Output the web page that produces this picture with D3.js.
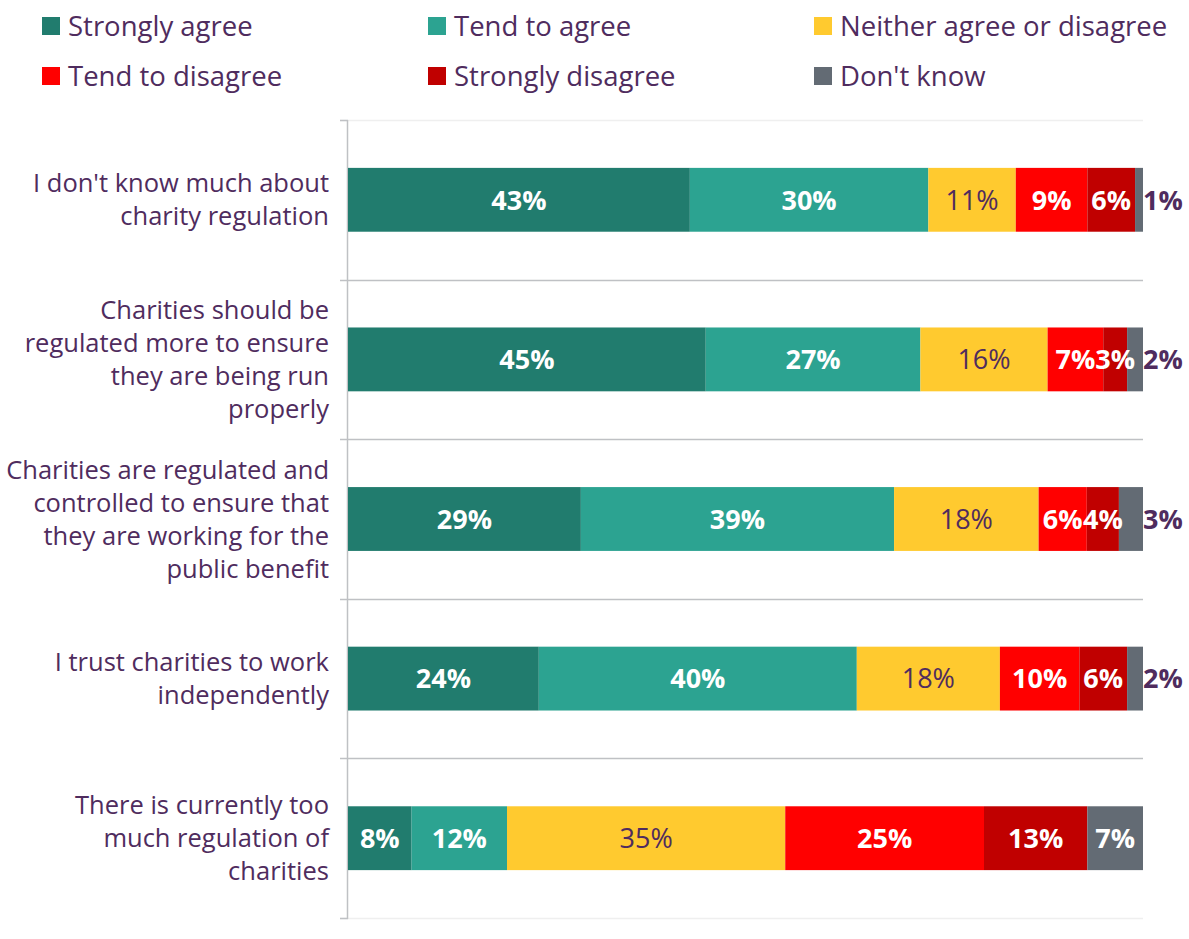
<!DOCTYPE html>
<html>
<head>
<meta charset="utf-8">
<script src="https://cdn.jsdelivr.net/npm/d3@7"></script>
<style>
  html, body { margin: 0; padding: 0; background: #ffffff; }
  svg { display: block; font-family: "Open Sans", Lato, sans-serif; }
</style>
</head>
<body>
<svg id="chart" width="1189" height="939"></svg>
<script>
// Survey statements (each entry is the wrapped lines of the axis label)
const statements = [
  ["I don't know much about", "charity regulation"],
  ["Charities should be", "regulated more to ensure", "they are being run", "properly"],
  ["Charities are regulated and", "controlled to ensure that", "they are working for the", "public benefit"],
  ["I trust charities to work", "independently"],
  ["There is currently too", "much regulation of", "charities"]
];

// Response options, in stacking order
const responses = ["Strongly agree", "Tend to agree", "Neither agree or disagree",
                   "Tend to disagree", "Strongly disagree", "Don't know"];
const responseColors = ["#217C6E", "#2CA391", "#FFCA2F", "#FF0000", "#C00000", "#636B74"];

// Percentages for each response, one value per statement
const stronglyAgree   = [43, 45, 29, 24, 8];
const tendToAgree     = [30, 27, 39, 40, 12];
const neither         = [11, 16, 18, 18, 35];
const tendToDisagree  = [9, 7, 6, 10, 25];
const stronglyDisagree= [6, 3, 4, 6, 13];
const dontKnow        = [1, 2, 3, 2, 7];

const seriesValues = [stronglyAgree, tendToAgree, neither, tendToDisagree, stronglyDisagree, dontKnow];

const textColor = "#4F2C5E";

const svg = d3.select("#chart");

const plot = { left: 348, right: 1143, top: 120, bottom: 918 };

// Rows for the 100% stacked layout
const rows = statements.map((s, i) => {
  const row = { key: i };
  responses.forEach((r, j) => { row[r] = seriesValues[j][i]; });
  return row;
});

const stack = d3.stack().keys(responses).offset(d3.stackOffsetExpand);
const layers = stack(rows);

const x = d3.scaleLinear().domain([0, 1]).range([plot.left, plot.right]);
const y = d3.scaleBand().domain(d3.range(statements.length))
  .range([plot.top, plot.bottom]).paddingInner(0.6).paddingOuter(0.3);

// Category boundaries: horizontal separators
const step = y.step();
const bounds = d3.range(statements.length + 1).map(i => plot.top + i * step);

svg.append("g").selectAll("line.sep")
  .data(bounds)
  .join("line")
  .attr("x1", 340)
  .attr("x2", plot.right)
  .attr("y1", d => Math.round(d) + 0.5)
  .attr("y2", d => Math.round(d) + 0.5)
  .attr("stroke", (d, i) => (i === 0 || i === bounds.length - 1) ? "#EFEFEF" : "#BFC1C4")
  .attr("stroke-width", 1.5);

// Ticks on the outer boundaries
svg.append("g").selectAll("line.tick")
  .data([bounds[0], bounds[bounds.length - 1]])
  .join("line")
  .attr("x1", 340).attr("x2", plot.left)
  .attr("y1", d => Math.round(d) + 0.5)
  .attr("y2", d => Math.round(d) + 0.5)
  .attr("stroke", "#BFC1C4").attr("stroke-width", 1.5);

// Vertical category axis line
svg.append("line")
  .attr("x1", plot.left - 0.5).attr("x2", plot.left - 0.5)
  .attr("y1", plot.top).attr("y2", plot.bottom + 1)
  .attr("stroke", "#BFC1C4").attr("stroke-width", 1.5);

// Bars
const layerG = svg.append("g").selectAll("g.layer")
  .data(layers)
  .join("g")
  .attr("fill", (d, i) => responseColors[i]);

layerG.selectAll("rect")
  .data(d => d)
  .join("rect")
  .attr("x", d => x(d[0]))
  .attr("width", d => x(d[1]) - x(d[0]))
  .attr("y", (d, i) => y(i))
  .attr("height", y.bandwidth());

// Value labels
layers.forEach((layer, j) => {
  layer.forEach((seg, i) => {
    const v = seriesValues[j][i];
    const cx = (x(seg[0]) + x(seg[1])) / 2;
    const cy = y(i) + y.bandwidth() / 2;
    const last = j === responses.length - 1;
    const outside = last && v < 5;
    svg.append("text")
      .attr("x", outside ? x(seg[1]) : cx)
      .attr("y", cy)
      .attr("dy", "0.36em")
      .attr("text-anchor", outside ? "start" : "middle")
      .attr("font-size", 27)
      .attr("font-weight", j === 2 ? 400 : 700)
      .attr("fill", (j === 2 || outside) ? textColor : "#ffffff")
      .text(v + "%");
  });
});

// Category labels
statements.forEach((lines, i) => {
  const cy = y(i) + y.bandwidth() / 2;
  const lh = 33;
  const t = svg.append("text")
    .attr("text-anchor", "end")
    .attr("font-size", 25.5)
    .attr("fill", textColor);
  lines.forEach((ln, k) => {
    t.append("tspan")
      .attr("x", 329)
      .attr("y", cy + (k - (lines.length - 1) / 2) * lh)
      .attr("dy", "0.36em")
      .text(ln);
  });
});

// Legend: two rows of three
const legend = svg.append("g");
responses.forEach((r, i) => {
  const col = i % 3, row = Math.floor(i / 3);
  const lx = 42 + col * 386;
  const ly = 26 + row * 50;
  legend.append("rect")
    .attr("x", lx).attr("y", ly - 9)
    .attr("width", 18).attr("height", 18)
    .attr("fill", responseColors[i]);
  legend.append("text")
    .attr("x", lx + 26).attr("y", ly)
    .attr("dy", "0.36em")
    .attr("font-size", 27.5)
    .attr("fill", textColor)
    .text(r);
});
</script>
</body>
</html>
